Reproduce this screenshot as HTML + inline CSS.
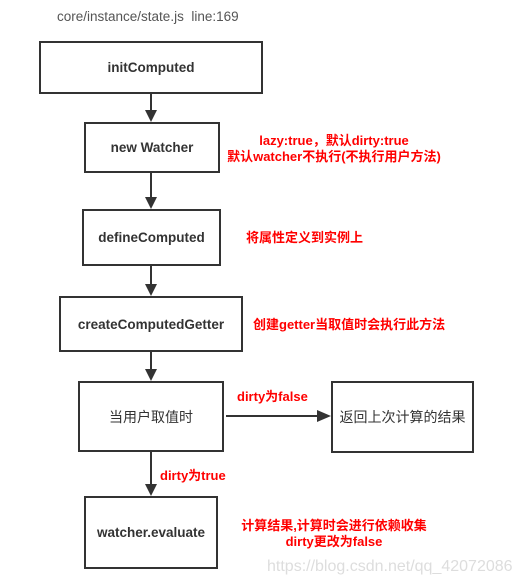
<!DOCTYPE html>
<html><head><meta charset="utf-8"><style>
body{margin:0;width:519px;height:587px;background:#fff;position:relative;overflow:hidden;font-family:"Liberation Sans","Noto Sans CJK SC",sans-serif}
.b{position:absolute;border:2px solid #333;box-sizing:border-box;display:flex;align-items:center;justify-content:center;font-size:13.5px;font-weight:bold;color:#333}
.r{position:absolute;color:#f00;font-weight:bold;font-size:13px;white-space:nowrap;line-height:16px}
.t{position:absolute;white-space:nowrap}
</style></head><body>
<div class="t" style="left:57px;top:9px;font-size:13.5px;color:#555">core/instance/state.js&nbsp; line:169</div>
<div class="b" style="left:39px;top:41px;width:224px;height:53px">initComputed</div>
<div class="b" style="left:84px;top:122px;width:136px;height:51px">new Watcher</div>
<div class="b" style="left:82px;top:209px;width:139px;height:57px">defineComputed</div>
<div class="b" style="left:59px;top:296px;width:184px;height:56px">createComputedGetter</div>
<div class="b" style="left:78px;top:381px;width:146px;height:71px;font-weight:normal;font-size:14px">当用户取值时</div>
<div class="b" style="left:331px;top:381px;width:143px;height:72px;font-weight:normal;font-size:14px">返回上次计算的结果</div>
<div class="b" style="left:84px;top:496px;width:134px;height:73px">watcher.evaluate</div>
<div class="r" style="left:225px;top:133px;width:218px;text-align:center">lazy:true，默认dirty:true<br>默认watcher不执行(不执行用户方法)</div>
<div class="r" style="left:246px;top:230px">将属性定义到实例上</div>
<div class="r" style="left:253px;top:317px">创建getter当取值时会执行此方法</div>
<div class="r" style="left:237px;top:389px">dirty为false</div>
<div class="r" style="left:160px;top:468px">dirty为true</div>
<div class="r" style="left:234px;top:518px;width:200px;text-align:center">计算结果,计算时会进行依赖收集<br>dirty更改为false</div>
<div class="t" style="left:267px;top:558px;font-size:16px;color:#ddd">https://blog.csdn.net/qq_42072086</div>
<svg style="position:absolute;left:0;top:0" width="519" height="587">
<g stroke="#333" stroke-width="2" fill="#333">
<line x1="151" y1="94" x2="151" y2="112"/><polygon points="145,110 157,110 151,122" stroke="none"/>
<line x1="151" y1="173" x2="151" y2="199"/><polygon points="145,197 157,197 151,209" stroke="none"/>
<line x1="151" y1="266" x2="151" y2="286"/><polygon points="145,284 157,284 151,296" stroke="none"/>
<line x1="151" y1="352" x2="151" y2="371"/><polygon points="145,369 157,369 151,381" stroke="none"/>
<line x1="151" y1="452" x2="151" y2="486"/><polygon points="145,484 157,484 151,496" stroke="none"/>
<line x1="226" y1="416" x2="320" y2="416"/><polygon points="317,410 317,422 331,416" stroke="none"/>
</g></svg>
</body></html>
